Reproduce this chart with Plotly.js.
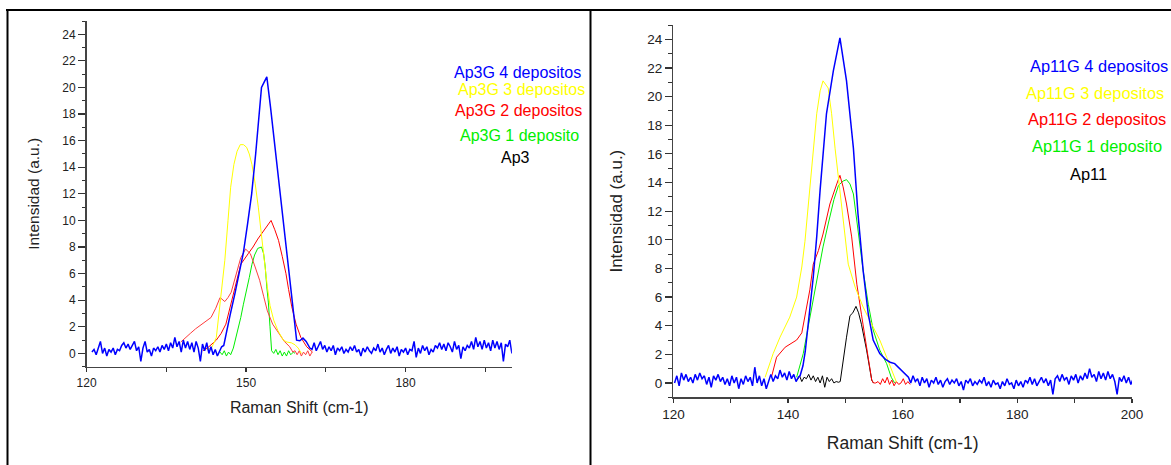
<!DOCTYPE html>
<html><head><meta charset="utf-8">
<script src="https://cdn.plot.ly/plotly-3.0.1.min.js"></script>
<style>html,body{margin:0;padding:0;background:#fff;overflow:hidden}#chart{width:1171px;height:465px}</style>
</head><body><div id="chart"></div>
<script>
// ---------- data ----------
const GRID_STEP = 0.4;

// Left panel (Ap3)
const L_labels = ['Ap3G 4 depositos', 'Ap3G 3 depositos', 'Ap3G 2 depositos', 'Ap3G 1 deposito', 'Ap3'];
const L_xtickvals = [120, 135, 150, 165, 180, 195];
const L_xticktext = ['120', '', '150', '', '180', ''];

const L_blueBase1_x0 = 121.0;
const L_blueBase1_y = [0.1,0.3,-0.1,0.5,0.9,0.0,0.4,-0.2,0.3,0.1,0.4,-0.1,0.3,0.2,0.6,0.8,0.4,0.7,0.3,0.6,0.9,0.2,0.5,-0.6,0.4,0.9,0.1,0.3,-0.2,0.4,0.2,0.5,0.1,0.6,0.3,0.7,0.2,0.8,0.4,1.2,0.5,0.9,0.1,1.0,0.4,0.9,0.3,0.8,0.1,0.9,0.4,-0.6,0.7,0.2,0.8,0.0,0.5,-0.1,0.3,-0.2,0.2,0.5];
const L_bluePeak_x = [145.8,146.35,147.0,147.9,148.7,149.5,150.3,151.05,151.8,152.5,152.9,153.4,153.9,154.6,155.3,156.0,156.7,157.4,158.1,158.8,159.5,160.1,160.7,161.3,162.0];
const L_bluePeak_y = [0.6,1.7,2.9,4.5,6.0,7.6,9.8,12.0,15.0,18.0,20.0,20.4,20.8,18.5,15.9,13.4,11.0,8.5,6.0,3.5,1.0,0.95,1.15,0.9,0.4];
const L_blueBase2_x0 = 162.4;
const L_blueBase2_y = [0.3,0.8,0.2,0.6,0.9,0.3,0.6,0.1,0.5,0.2,0.6,-0.1,0.4,0.2,0.5,0.0,0.3,0.1,0.5,0.2,0.6,0.1,0.3,-0.2,0.4,0.1,0.5,0.2,0.0,0.4,0.2,0.7,0.1,0.4,-0.1,0.3,0.6,0.0,0.4,0.1,0.5,-0.2,0.3,0.1,0.4,-0.1,0.3,0.2,0.9,-0.3,0.4,0.0,0.6,0.2,0.5,-0.1,0.3,0.1,0.6,0.4,0.8,0.3,0.7,0.2,0.8,0.5,0.1,0.9,0.3,0.6,-0.4,0.5,0.2,0.6,0.4,0.9,0.3,1.2,0.5,0.9,0.3,1.0,0.4,0.8,0.2,1.0,0.4,0.9,0.3,0.8,-0.6,0.7,0.5,1.0,0.0];

const L_yellow_x = [142.6,143.5,144.4,144.9,145.5,146.0,146.6,147.1,147.7,148.3,148.9,149.5,150.1,150.6,151.1,151.7,152.3,152.9,153.4,154.0,154.5,155.2,156.0,157.0,157.7,158.5,159.2,159.8,160.4];
const L_yellow_y = [0.3,0.4,1.2,3.0,5.0,7.0,10.0,12.5,14.2,15.2,15.7,15.7,15.5,15.0,14.2,12.8,11.0,8.8,7.0,5.0,3.6,2.5,1.7,1.0,0.85,0.8,0.65,0.4,0.0];

const L_red1_x = [137.7,138.6,139.5,140.5,141.5,142.5,143.4,144.3,145.1,146.0,146.6,147.2,148.1,149.0,149.9,150.8,151.7,152.55,153.3,154.0,155.0,156.1,157.2,158.2,158.8,159.2,159.6,160.0,160.4,160.8,161.2,161.6,162.0,162.4];
const L_red1_y = [0.85,1.2,1.5,1.85,2.15,2.45,2.7,3.4,4.2,3.9,4.2,4.6,5.9,7.2,7.85,7.5,6.5,5.5,4.3,3.2,2.2,1.5,0.9,0.5,0.1,0.2,-0.1,0.2,-0.2,0.1,-0.1,0.2,-0.2,0.1];
const L_red2_x = [141.9,143.0,144.4,145.3,146.2,147.0,147.9,149.0,150.4,151.3,152.2,153.5,154.7,155.4,156.1,156.8,157.5,158.0,158.6,159.4,160.3,161.4,162.5];
const L_red2_y = [0.2,0.5,1.0,1.5,2.2,3.5,5.0,6.7,7.5,8.0,8.6,9.3,10.0,9.3,8.5,7.3,6.0,4.8,3.5,2.2,1.2,0.5,0.1];

const L_green_x = [145.1,145.5,145.9,146.3,146.7,147.1,147.6,148.1,148.6,149.0,149.5,150.1,150.6,151.1,151.6,152.2,152.9,153.3,153.6,153.9,154.2,154.5,154.8,155.2,155.6,156.0,156.4,156.8,157.2,157.6,158.0,158.4,158.9,159.2];
const L_green_y = [0.1,-0.1,0.2,-0.2,0.1,-0.1,0.4,1.2,2.0,2.7,3.7,4.7,5.7,6.7,7.4,7.9,8.0,7.5,6.5,5.0,3.8,2.0,0.2,0.0,0.3,-0.1,0.2,-0.2,0.1,-0.2,0.2,-0.1,0.1,0.0];

// Right panel (Ap11)
const R_labels = ['Ap11G 4 depositos', 'Ap11G 3 depositos', 'Ap11G 2 depositos', 'Ap11G 1 deposito', 'Ap11'];
const R_xtickvals = [120, 130, 140, 150, 160, 170, 180, 190, 200];
const R_xticktext = ['120', '', '140', '', '160', '', '180', '', '200'];

const R_blueBase1_x0 = 120.2;
const R_blueBase1_y = [0.0,0.5,-0.2,0.7,0.2,0.6,0.1,0.4,0.0,0.6,0.2,0.7,0.3,0.5,-0.1,0.4,-0.3,0.5,0.2,0.6,0.1,0.4,-0.1,0.3,-0.2,0.5,0.0,0.4,-0.4,0.3,-0.1,0.5,0.1,0.4,-0.2,1.1,0.0,0.5,-0.2,0.3,-0.4,0.2,0.6,0.1,0.5,0.3,0.9,0.4,0.7,0.2,0.8,0.3,0.6,0.1,0.4];
const R_bluePeak_x = [142.1,142.6,143.0,143.8,144.4,145.0,145.6,146.7,147.9,149.05,150.2,151.4,152.2,153.1,154.0,154.85,156.0,157.0,157.8,158.6,159.5,160.2,160.7];
const R_bluePeak_y = [0.5,1.2,2.2,5.1,7.4,10.2,13.5,18.8,21.8,24.1,21.1,16.4,11.8,7.85,4.8,3.0,2.05,1.65,1.45,1.35,1.0,0.7,0.5];
const R_blueBase2_x0 = 161.0;
const R_blueBase2_y = [0.4,0.0,0.5,0.1,0.3,-0.2,0.4,0.0,0.3,-0.3,0.2,0.0,0.4,-0.1,0.2,-0.3,0.1,0.3,-0.1,0.2,0.0,0.3,-0.2,0.1,-0.5,0.2,0.0,0.3,-0.2,0.1,-0.1,0.2,0.0,0.4,-0.2,0.1,-0.3,0.2,-0.1,0.0,-0.4,0.1,-0.2,0.3,-0.1,0.0,-0.4,0.2,-0.2,0.1,-0.3,0.2,0.0,0.4,-0.1,0.3,-0.2,0.1,0.4,0.0,0.3,-0.2,0.2,-0.8,0.3,0.5,0.1,0.6,0.2,0.4,-0.1,0.5,0.2,0.6,0.0,0.5,0.2,0.7,0.3,1.0,0.4,0.6,0.1,0.8,0.3,0.7,0.2,0.8,0.3,0.6,0.1,-0.8,0.4,0.1,0.5,0.0,0.4,-0.1,0.3,-0.3];

const R_yellow_x = [136.0,137.4,138.6,140.3,141.5,142.4,142.95,143.6,144.1,145.0,145.6,146.1,147.0,147.6,148.2,149.05,149.6,150.5,151.7,153.1,154.6,156.0,157.2,158.3,158.9];
const R_yellow_y = [0.4,2.05,3.2,4.6,6.0,8.1,9.9,12.8,15.3,18.8,20.4,21.1,20.6,18.8,16.4,13.4,11.1,8.3,6.7,5.3,4.1,3.0,1.8,0.65,0.07];

const R_red_x = [137.1,138.0,139.5,141.5,142.4,143.25,143.8,144.4,145.3,146.1,147.3,148.5,149.05,149.6,150.2,151.1,152.0,152.8,153.7,154.6,154.9,155.3,155.7,156.1,156.5,156.9,157.3,157.7,158.1,158.5,158.9,159.3,159.7,160.1,160.5,160.9,161.3];
const R_red_y = [0.4,1.8,2.5,3.0,3.5,5.3,6.5,8.3,9.25,10.4,12.5,13.9,14.5,13.7,12.5,10.2,6.9,4.8,2.5,0.2,0.0,0.0,0.1,-0.1,0.3,0.0,0.4,-0.1,0.2,-0.2,0.1,-0.1,0.0,0.3,-0.1,0.1,-0.1];

const R_green_x = [141.5,142.65,143.5,144.4,145.3,146.1,147.0,148.0,148.8,149.6,150.2,150.8,151.4,152.2,153.1,154.0,154.85,156.0,157.2,158.0,158.6];
const R_green_y = [0.4,2.05,3.9,5.8,7.6,9.5,11.1,12.8,13.8,14.1,14.2,13.9,13.2,10.6,7.85,5.5,3.7,2.3,1.35,0.4,0.0];

const R_blackBase_x0 = 141.6;
const R_blackBase_y = [0.2,0.5,0.1,0.4,0.3,0.6,0.2,0.5,0.1,0.4,0.0,0.5,-0.3,0.4,0.1,0.3,0.0,0.1,0.05];
const R_blackPeak_x = [149.1,150.2,150.8,151.3,151.85,152.3,152.8,153.7,154.6,154.9];
const R_blackPeak_y = [0.1,3.2,4.7,4.9,5.35,4.9,4.1,2.3,0.2,0.0];

// ---------- helpers ----------
function gridX(x0, vals) { return vals.map((v, i) => +(x0 + i * GRID_STEP).toFixed(2)); }

const COLORS = { blue: '#0000ff', yellow: '#ffff00', red: '#ff0000', red1: '#ff3c3c', green: '#00ee00', black: '#000000' };
const W = 1171, H = 465;
const FONT = 'Liberation Sans, Arial, sans-serif';

function line(x, y, color, width, xa, ya, name) {
  return { type: 'scatter', mode: 'lines', x: x, y: y, name: name, xaxis: xa, yaxis: ya,
           line: { color: color, width: width }, showlegend: false, hoverinfo: 'x+y' };
}

const Lbx = gridX(L_blueBase1_x0, L_blueBase1_y).concat(L_bluePeak_x, gridX(L_blueBase2_x0, L_blueBase2_y));
const Lby = L_blueBase1_y.concat(L_bluePeak_y, L_blueBase2_y);
const Rbx = gridX(R_blueBase1_x0, R_blueBase1_y).concat(R_bluePeak_x, gridX(R_blueBase2_x0, R_blueBase2_y));
const Rby = R_blueBase1_y.concat(R_bluePeak_y, R_blueBase2_y);
const Rkx = gridX(R_blackBase_x0, R_blackBase_y).concat(R_blackPeak_x);
const Rky = R_blackBase_y.concat(R_blackPeak_y);

const traces = [
  line(L_green_x, L_green_y, COLORS.green, 1, 'x', 'y', L_labels[3]),
  line(L_red1_x, L_red1_y, COLORS.red1, 1, 'x', 'y', L_labels[2]),
  line(L_red2_x, L_red2_y, COLORS.red, 1, 'x', 'y', L_labels[2]),
  line(L_yellow_x, L_yellow_y, COLORS.yellow, 1, 'x', 'y', L_labels[1]),
  line(Lbx, Lby, COLORS.blue, 1.5, 'x', 'y', L_labels[0]),
  line(Rkx, Rky, COLORS.black, 1, 'x2', 'y2', R_labels[4]),
  line(R_green_x, R_green_y, COLORS.green, 1, 'x2', 'y2', R_labels[3]),
  line(R_red_x, R_red_y, COLORS.red, 1, 'x2', 'y2', R_labels[2]),
  line(R_yellow_x, R_yellow_y, COLORS.yellow, 1, 'x2', 'y2', R_labels[1]),
  line(Rbx, Rby, COLORS.blue, 1.5, 'x2', 'y2', R_labels[0])
];

function px(x) { return x / W; }
function py(y) { return 1 - y / H; }

function xaxisCfg(domain, tv, tt, fs, titleFs, standoff) {
  return { domain: domain, range: [120, 200], showgrid: false, zeroline: false,
    showline: true, linecolor: '#444', linewidth: 1.5, ticks: 'outside', ticklen: 4, tickwidth: 1.2, tickcolor: '#333',
    tickmode: 'array', tickvals: tv, ticktext: tt, tickfont: { family: FONT, size: fs, color: '#222' },
    title: { text: 'Raman Shift (cm-1)', font: { family: FONT, size: titleFs, color: '#222' }, standoff: standoff },
    fixedrange: true };
}
function yaxisCfg(domain, fs, titleFs, standoff) {
  return { domain: domain, range: [-1, 25], showgrid: false, zeroline: false,
    showline: true, linecolor: '#444', linewidth: 1.5, ticks: 'outside', ticklen: 7, tickwidth: 1.2, tickcolor: '#333',
    tick0: 0, dtick: 2, tickfont: { family: FONT, size: fs, color: '#222' },
    minor: { dtick: 1, ticklen: 3.5, tickcolor: '#333', tickwidth: 1, ticks: 'outside' },
    title: { text: 'Intensidad (a.u.)', font: { family: FONT, size: titleFs, color: '#222' }, standoff: standoff },
    fixedrange: true };
}

const L_legendPos = [[452.3, 72.2], [455.7, 89.7], [453.3, 110.8], [458.3, 135.5], [499, 157]];
const R_legendPos = [[1027.5, 65.8], [1024, 92.5], [1026, 119.2], [1029.5, 146.2], [1068.3, 174.2]];
const legendColors = [COLORS.blue, COLORS.yellow, COLORS.red, COLORS.green, COLORS.black];

const annotations = [];
L_labels.forEach((t, i) => annotations.push({ xref: 'paper', yref: 'paper', x: px(L_legendPos[i][0]), y: py(L_legendPos[i][1]),
  xanchor: 'left', yanchor: 'middle', text: t, showarrow: false, font: { family: FONT, size: 16, color: legendColors[i] } }));
R_labels.forEach((t, i) => annotations.push({ xref: 'paper', yref: 'paper', x: px(R_legendPos[i][0]), y: py(R_legendPos[i][1]),
  xanchor: 'left', yanchor: 'middle', text: t, showarrow: false, font: { family: FONT, size: 16.4, color: legendColors[i] } }));

const shapes = [
  { type: 'line', xref: 'paper', yref: 'paper', x0: px(6), x1: 1, y0: py(10), y1: py(10), line: { color: '#000', width: 2 } },
  { type: 'line', xref: 'paper', yref: 'paper', x0: px(7.5), x1: px(7.5), y0: py(10), y1: 0, line: { color: '#000', width: 2 } },
  { type: 'line', xref: 'paper', yref: 'paper', x0: px(590.5), x1: px(590.5), y0: py(10), y1: 0, line: { color: '#000', width: 2 } }
];

const layout = {
  width: W, height: H, margin: { l: 0, r: 0, t: 0, b: 0 },
  paper_bgcolor: '#ffffff', plot_bgcolor: 'rgba(0,0,0,0)', showlegend: false,
  xaxis: xaxisCfg([px(86.6), px(511.9)], L_xtickvals, L_xticktext, 12, 16, 13),
  yaxis: yaxisCfg([py(366.7), py(21)], 12, 15.5, 19),
  xaxis2: Object.assign(xaxisCfg([px(673.4), px(1132)], R_xtickvals, R_xticktext, 13.5, 17.5, 15), { anchor: 'y2' }),
  yaxis2: Object.assign(yaxisCfg([py(397.3), py(25)], 13.5, 17, 20), { anchor: 'x2' }),
  annotations: annotations, shapes: shapes
};
layout.xaxis.anchor = 'y';
layout.yaxis.anchor = 'x';

Plotly.newPlot('chart', traces, layout, { staticPlot: true, displayModeBar: false });
</script></body></html>
